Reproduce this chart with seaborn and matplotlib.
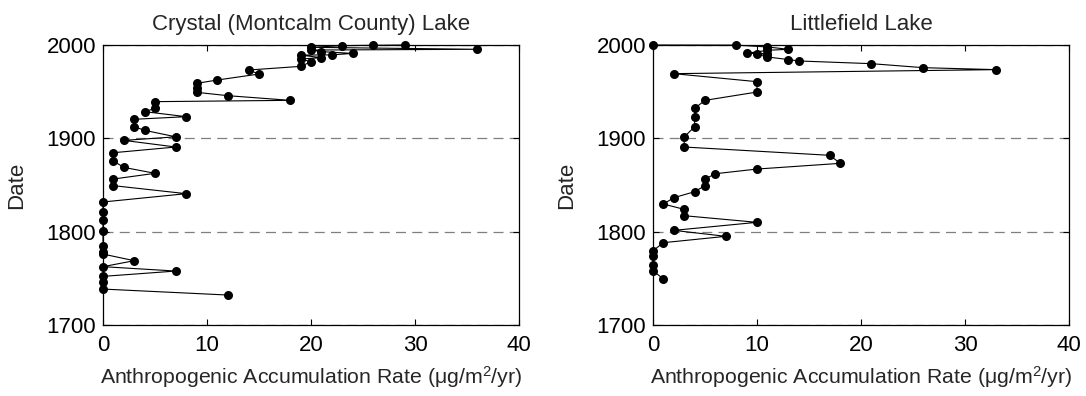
import matplotlib
matplotlib.use("Agg")
import matplotlib.pyplot as plt
import seaborn as sns
import pandas as pd

# ---- data ----
crystal_dates = [2000.0, 1999.7, 1999.3, 1997.5, 1995.4, 1994.6, 1992.9, 1991.0, 1989.4, 1989.2,
                 1986.4, 1985.0, 1982.0, 1977.1, 1973.2, 1968.9, 1962.5, 1958.9, 1953.6, 1949.3,
                 1945.7, 1940.7, 1939.3, 1932.0, 1928.6, 1923.2, 1920.4, 1912.5, 1908.6, 1901.6,
                 1897.8, 1890.7, 1884.6, 1875.7, 1868.9, 1862.5, 1856.4, 1849.3, 1840.7, 1831.8,
                 1821.0, 1812.8, 1800.7, 1784.2, 1777.8, 1776.0, 1768.9, 1762.5, 1757.8, 1752.1,
                 1745.7, 1738.5, 1732.1]
crystal_values = [29, 26, 23, 20, 36, 20, 21, 24, 22, 19,
                  21, 19, 20, 19, 14, 15, 11, 9, 9, 9,
                  12, 18, 5, 5, 4, 8, 3, 3, 4, 7,
                  2, 7, 1, 1, 2, 5, 1, 1, 8, 0,
                  0, 0, 0, 0, 0, 0, 3, 0, 7, 0,
                  0, 0, 12]

little_dates = [2000.0, 1999.9, 1997.9, 1995.4, 1994.3, 1991.1, 1990.8, 1990.0, 1987.2, 1984.4,
                1982.9, 1980.0, 1975.7, 1973.6, 1969.3, 1960.7, 1949.6, 1940.7, 1932.1, 1923.2,
                1912.5, 1901.4, 1890.7, 1881.8, 1873.2, 1867.1, 1862.1, 1856.4, 1849.3, 1842.8,
                1836.4, 1829.6, 1823.9, 1817.1, 1810.0, 1801.4, 1795.0, 1788.2, 1779.6, 1773.5,
                1764.6, 1758.2, 1749.2]
little_values = [0, 8, 11, 13, 11, 9, 11, 10, 11, 13,
                 14, 21, 26, 33, 2, 10, 10, 5, 4, 4,
                 4, 3, 3, 17, 18, 10, 6, 5, 5, 4,
                 2, 1, 3, 3, 10, 2, 7, 1, 0, 0,
                 0, 0, 1]

titles = ["Crystal (Montcalm County) Lake", "Littlefield Lake"]
x_ticks = [0, 10, 20, 30, 40]
y_ticks = [1700, 1800, 1900, 2000]
xlabel = r"Anthropogenic Accumulation Rate ($\mu$g/m$^{2}$/yr)"
ylabel = "Date"

# ---- style ----
sns.set_style("ticks")
plt.rcParams['font.family'] = ['Liberation Sans', 'DejaVu Sans']
plt.rcParams['mathtext.fontset'] = 'custom'
plt.rcParams['mathtext.rm'] = 'Liberation Sans'
plt.rcParams['mathtext.it'] = 'Liberation Sans'

FS = 16

fig = plt.figure(figsize=(10.86, 3.96), dpi=100)
ax1 = fig.add_axes([103/1086, 71/396, 416/1086, 280/396])
ax2 = fig.add_axes([653/1086, 71/396, 416/1086, 280/396])

datasets = [(crystal_values, crystal_dates), (little_values, little_dates)]

for ax, (vals, dates), title in zip([ax1, ax2], datasets, titles):
    df = pd.DataFrame({"rate": vals, "date": dates})
    sns.lineplot(data=df, x="rate", y="date", ax=ax, sort=False, estimator=None,
                 color="black", linewidth=0.8, marker="o", markersize=6.5,
                 markeredgewidth=0, markerfacecolor="black", clip_on=False, zorder=3)
    ax.set_xlim(0, 40)
    ax.set_ylim(1700, 2000)
    ax.set_xticks(x_ticks)
    ax.set_yticks(y_ticks)
    ax.tick_params(direction="in", top=True, right=True, length=4, width=0.8,
                   labelsize=FS, colors="black")
    ax.tick_params(axis="x", pad=7)
    ax.tick_params(axis="y", pad=5)
    ax.grid(axis="y", linestyle=(0, (8, 5)), color="#7f7f7f", linewidth=0.9)
    ax.grid(axis="x", visible=False)
    for sp in ax.spines.values():
        sp.set_linewidth(0.9)
        sp.set_color("black")
    ax.set_title(title, fontsize=FS, pad=11)
    ax.set_xlabel(xlabel, fontsize=15.3, labelpad=6)
    ax.set_ylabel(ylabel, fontsize=FS, labelpad=14)

fig.savefig("out.png", dpi=100)
